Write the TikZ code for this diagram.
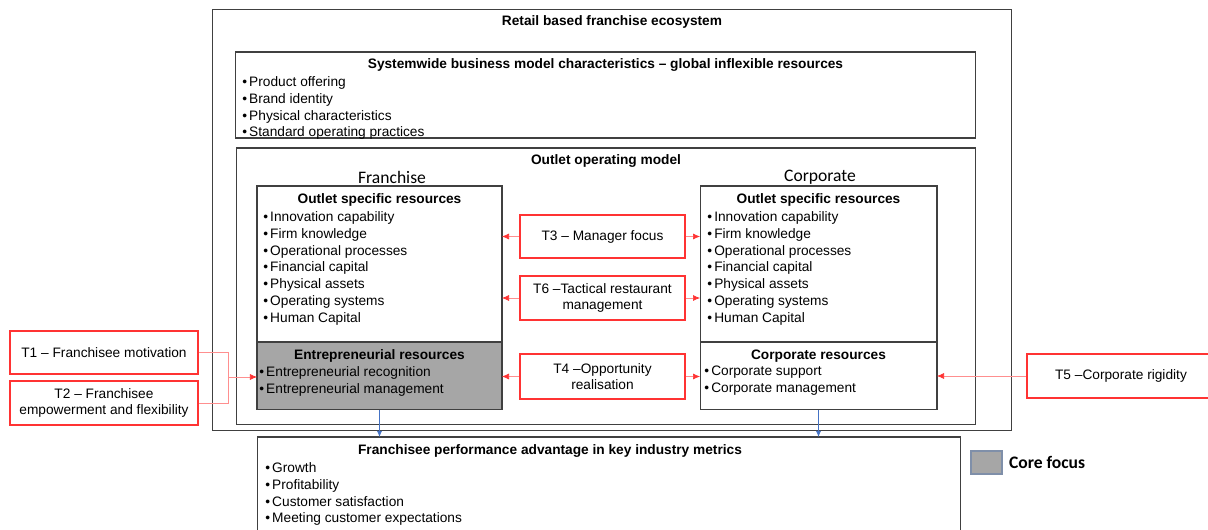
\documentclass[tikz,border=0pt]{standalone}
\usepackage{fontspec}
\setmainfont{Liberation Sans}
\newfontfamily\calibri{Carlito}
\usetikzlibrary{calc,positioning,arrows.meta}

\definecolor{boxline}{HTML}{404040}
\definecolor{tred}{HTML}{FF3333}
\definecolor{corefill}{HTML}{A6A6A6}
\definecolor{linkblue}{HTML}{4472C4}
\definecolor{legendline}{HTML}{7F8FA9}

\newcommand{\bul}{•\kern1.2pt}

\tikzset{
  panel/.style={draw=boxline, line width=0.6pt, inner sep=0pt, outer sep=0pt},
  tbox/.style={draw=tred, line width=0.6pt, align=center, inner sep=0pt,
               font=\fontsize{7.8}{9.4}\selectfont},
  heading/.style={font=\fontsize{7.8}{9.4}\selectfont\bfseries, inner sep=0pt},
  itemlist/.style={font=\fontsize{7.8}{9.6}\selectfont, align=left,
                   anchor=north west, inner sep=0pt},
  side/.style={font=\calibri\fontsize{10}{12}\selectfont, inner sep=0pt},
  tlink/.style={draw=tred!55, line width=0.4pt},
  tarrow/.style={tlink, -{Latex[length=4pt,width=3.5pt,color=tred]}},
  outlink/.style={draw=linkblue, line width=0.4pt, -{Latex[length=3.5pt,width=3pt]}},
}

\begin{document}
\begin{tikzpicture}[x=0.02cm, y=-0.02cm]

\useasboundingbox (0,0) rectangle (1208,530);
\clip (0,0) rectangle (1208,530);

% Ecosystem frame
\node[panel, minimum width=16cm, minimum height=8.44cm] (eco) at (612,220) {};
\node[heading] (ecot) at ($(eco.north)+(0,13)$) {Retail based franchise ecosystem};

% Systemwide characteristics
\node[panel, minimum width=14.82cm, minimum height=1.72cm] (sys) at (605.5,95) {};
\node[heading] (syst) at ($(sys.north)+(0,13)$)
  {Systemwide business model characteristics – global inflexible resources};
\node[itemlist] (sysl) at (242,76) {\bul Product offering\\\bul Brand identity\\
  \bul Physical characteristics\\\bul Standard operating practices};

% Outlet operating model
\node[panel, minimum width=14.8cm, minimum height=5.54cm] (oom) at (606,286.5) {};
\node[heading] (oomt) at ($(oom.north)+(0,13)$) {Outlet operating model};
\node[side] (frl) at (392,177) {Franchise};
\node[side] (col) at (820,177) {Corporate};

% Franchise outlet
\node[panel, minimum width=4.9cm, minimum height=3.12cm] (fos) at (379.5,264) {};
\node[panel, fill=corefill, minimum width=4.9cm, minimum height=1.36cm,
      below=0pt of fos] (fer) {};
\node[heading] (fost) at ($(fos.north)+(0,14)$) {Outlet specific resources};
\node[itemlist] (fosl) at (263,211) {\bul Innovation capability\\\bul Firm knowledge\\
  \bul Operational processes\\\bul Financial capital\\\bul Physical assets\\
  \bul Operating systems\\\bul Human Capital};
\node[heading] (fert) at ($(fer.north)+(0,14)$) {Entrepreneurial resources};
\node[itemlist] (ferl) at (259,366) {\bul Entrepreneurial recognition\\
  \bul Entrepreneurial management};

% Corporate outlet
\node[panel, minimum width=4.74cm, minimum height=3.12cm] (cos) at (818.5,264) {};
\node[panel, minimum width=4.74cm, minimum height=1.36cm,
      below=0pt of cos] (cor) {};
\node[heading] (cost) at ($(cos.north)+(0,14)$) {Outlet specific resources};
\node[itemlist] (cosl) at (707,211) {\bul Innovation capability\\\bul Firm knowledge\\
  \bul Operational processes\\\bul Financial capital\\\bul Physical assets\\
  \bul Operating systems\\\bul Human Capital};
\node[heading] (cort) at ($(cor.north)+(0,14)$) {Corporate resources};
\node[itemlist] (corl) at (704,366) {\bul Corporate support\\\bul Corporate management};

% Tensions
\node[tbox, minimum width=3.3cm, minimum height=0.86cm] (t3) at (602.5,236.5)
  {T3 – Manager focus};
\node[tbox, minimum width=3.3cm, minimum height=0.88cm] (t6) at (602.5,298)
  {T6 –Tactical restaurant\\management};
\node[tbox, minimum width=3.3cm, minimum height=0.9cm] (t4) at (602.5,376.5)
  {T4 –Opportunity\\realisation};
\node[tbox, minimum width=3.76cm, minimum height=0.86cm] (t1) at (104,352.5)
  {T1 – Franchisee motivation};
\node[tbox, minimum width=3.76cm, minimum height=0.88cm] (t2) at (104,403)
  {T2 – Franchisee\\empowerment and flexibility};
\node[tbox, minimum width=3.76cm, minimum height=0.88cm] (t5) at (1121,376)
  {T5 –Corporate rigidity};

% Performance
\node[panel, minimum width=14.08cm, minimum height=2.16cm] (perf) at (609,491) {};
\node[heading] (perft) at (550,451) {Franchisee performance advantage in key industry metrics};
\node[itemlist] (perfl) at (265,462) {\bul Growth\\\bul Profitability\\
  \bul Customer satisfaction\\\bul Meeting customer expectations};

% Legend
\node[draw=legendline, fill=corefill, line width=0.8pt, inner sep=0pt,
      minimum width=0.62cm, minimum height=0.46cm] (key) at (986.5,462.5) {};
\node[side, font=\calibri\fontsize{10}{12}\selectfont\bfseries,
      right=0.12cm of key] (keyt) {Core focus};

% Connectors
\coordinate (jn) at (228,377);
\draw[tlink] (t1.east) -| (jn);
\draw[tlink] (t2.east) -| (jn);
\draw[tarrow] (jn) -- (jn -| fer.west);
\foreach \t/\l/\r in {t3/fos/cos, t6/fos/cos, t4/fer/cor} {
  \draw[tarrow] (\t.west) -- (\t.west -| \l.east);
  \draw[tarrow] (\t.east) -- (\t.east -| \r.west);
}
\draw[tarrow] (t5.west) -- (t5.west -| cor.east);
\draw[outlink] (fer.south) -- (fer.south |- perf.north);
\draw[outlink] (cor.south) -- (cor.south |- perf.north);

\end{tikzpicture}
\end{document}
